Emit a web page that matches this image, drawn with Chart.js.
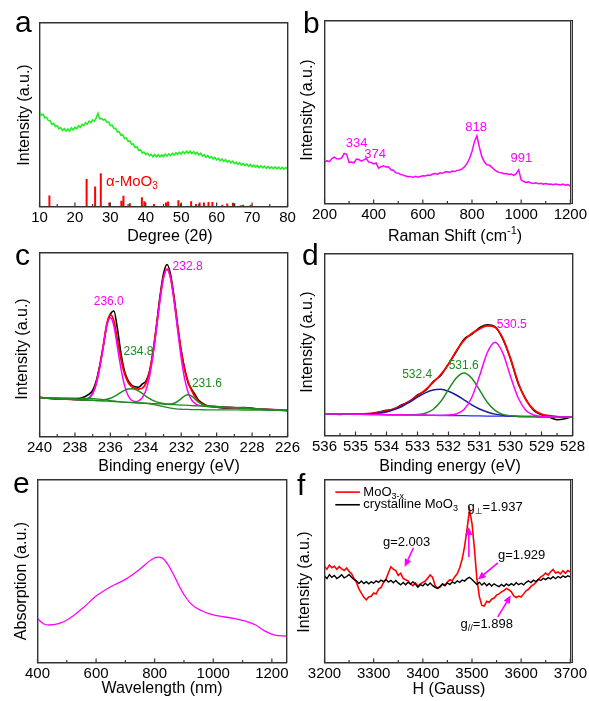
<!DOCTYPE html>
<html>
<head>
<meta charset="utf-8">
<script src="https://cdn.jsdelivr.net/npm/chart.js@4.4.0/dist/chart.umd.min.js"></script>
<style>
html, body { margin: 0; padding: 0; background: #fff; }
#wrap { position: relative; width: 589px; height: 701px; }
#wrap canvas { position: absolute; left: 0; top: 0; }
.edge { position: absolute; background: #333; z-index: 5; pointer-events: none; }
</style>
</head>
<body>
<div id="wrap">
  <canvas id="pa" width="589" height="701"></canvas>
  <canvas id="pb" width="589" height="701"></canvas>
  <canvas id="pc" width="589" height="701"></canvas>
  <canvas id="pd" width="589" height="701"></canvas>
  <canvas id="pe" width="589" height="701"></canvas>
  <canvas id="pf" width="589" height="701"></canvas>
</div>
<script>
// ---- data (y in arbitrary units, 0 = bottom of frame, 100 = top) ----
function range(a, b, step) {
  const out = [];
  for (let i = 0; a + i * step <= b + 1e-9; i++) out.push(Math.round((a + i * step) * 100) / 100);
  return out;
}

// a: XRD
const xrdAngle = range(10, 80, 0.5);
const xrdIntensity = [
  51.3,49.6,50.1,48.2,48.4,46.7,46.6,44.6,45.2,43.5,
  43.9,42.2,42.9,41.3,42.3,41.0,42.1,41.0,42.7,41.6,
  43.1,42.3,43.9,43.0,44.6,44.0,45.6,44.8,46.4,45.6,
  47.1,46.3,48.2,50.6,47.7,47.9,47.0,47.4,45.8,45.9,
  44.0,44.2,42.4,42.5,40.5,40.6,38.7,39.0,37.0,37.3,
  35.4,35.6,33.9,33.9,32.0,32.3,30.4,30.8,29.1,29.6,
  28.2,28.9,27.6,28.3,27.1,28.2,27.0,28.1,27.0,28.1,
  27.2,28.4,27.4,28.6,27.7,28.9,28.0,29.2,28.3,29.5,
  28.5,29.8,28.8,30.0,28.9,30.0,28.8,29.8,28.5,29.4,
  28.0,28.9,27.4,28.2,26.8,27.7,26.3,27.1,25.8,26.7,
  25.4,26.2,24.9,25.8,24.5,25.4,24.1,24.9,23.7,24.6,
  23.3,24.1,22.9,23.8,22.5,23.4,22.2,23.1,21.9,22.8,
  21.6,22.5,21.4,22.3,21.2,22.1,21.0,21.9,20.8,21.8,
  20.7,21.6,20.6,21.5,20.5,21.4,20.4,21.3,20.3,21.2,
  20.4
];
const refPeakAngle = [12.8,23.3,25.7,27.3,29.7,33.1,33.7,35.5,38.9,39.6,42.3,45.7,46.3,49.2,49.9,52.8,54.2,55.2,56.4,57.7,58.8,61.6,63.0,64.6,65.0,66.9,67.5,69.6];
const refPeakHeight = [6.0,14.9,10.9,18.1,2.2,3.1,5.8,1.8,5.0,2.9,1.3,2.2,2.7,3.4,1.6,2.9,1.3,2.2,2.2,2.5,2.5,0.9,1.6,2.0,1.8,0.7,0.9,0.9];

// b: Raman
const ramanShift = range(200, 1200, 10);
const ramanIntensity = [
  22.6,23.4,22.9,24.6,25.3,24.4,24.3,24.9,27.4,26.9,
  22.3,22.6,22.2,24.3,24.0,23.2,23.8,24.6,22.6,22.4,
  21.6,22.1,19.3,20.1,20.6,19.9,20.1,18.4,18.2,16.8,
  16.6,15.8,15.5,15.0,14.6,14.8,14.3,14.9,14.4,14.8,
  15.2,15.0,15.6,15.3,16.1,16.4,16.0,16.8,16.5,17.2,
  17.4,17.0,17.8,17.5,18.1,18.3,18.9,20.1,21.9,24.6,
  28.4,33.8,37.0,30.8,25.6,22.8,21.2,21.0,19.9,18.6,
  17.6,17.0,16.8,16.3,16.4,15.9,16.1,15.4,16.3,18.4,
  12.9,12.0,11.5,11.8,11.2,11.0,11.3,10.8,11.0,10.6,
  10.9,10.5,10.6,10.3,10.7,10.4,10.1,10.6,10.0,10.3,
  9.6
];

// c: Mo 3d XPS
const moEnergy = [240,239,238,237.6,237.2,237.0,236.8,236.6,236.4,236.2,236.0,235.8,235.6,235.4,235.2,235.0,234.8,234.6,234.4,234.2,234.0,233.8,233.6,233.4,233.2,233.0,232.8,232.6,232.4,232.2,232.0,231.8,231.6,231.4,231.2,231.0,230.6,230.2,229.5,228.5,227.5,226];
const moRaw = [21.3,20.4,20.3,21.0,23.0,25.0,30.0,38.5,49.0,60.5,66.5,68.2,58.5,45.0,35.5,30.5,28.0,27.0,26.8,28.5,30.0,35.0,45.5,60.0,76.0,88.5,93.5,88.0,75.5,60.0,46.5,36.5,29.0,25.5,22.5,19.5,17.0,16.2,15.5,15.7,14.8,14.0];
const moFit = [21.1,20.6,20.1,19.9,20.95,23.4,28.7,37.8,49.5,61.2,66.2,62.7,52.4,42.1,34.2,29.5,27.2,26.2,25.8,26.3,28.8,34.7,45.1,59.3,74.6,86.6,91.0,86.4,74.4,59.6,46.1,36.1,29.5,24.8,21.3,18.8,16.7,16.3,15.9,15.4,14.9,14.2];
const moSix = [21.1,20.6,20.1,19.9,20.9,23.3,28.6,37.5,48.9,60.2,64.5,60.0,48.5,36.9,27.8,22.3,19.7,19.0,19.4,21.1,24.9,32.0,43.4,58.3,74.0,86.3,90.9,86.1,73.6,57.7,42.6,31.0,23.7,19.7,17.8,16.9,16.4,16.3,15.9,15.4,14.9,14.2];
const moFive = [21.1,20.6,20.1,19.9,19.75,19.7,19.6,19.7,19.9,20.2,20.8,21.7,22.8,24.0,25.1,25.8,26.0,25.6,24.7,23.4,22.0,20.7,19.6,18.8,18.3,17.9,17.6,17.7,18.1,19.1,20.6,22.1,22.7,21.9,20.2,18.5,16.7,16.3,15.9,15.4,14.9,14.2];
const moLinearBg = [21.1,20.6,20.1,19.9,19.7,19.6,19.5,19.4,19.3,19.2,19.1,19.0,18.9,18.8,18.7,18.6,18.5,18.4,18.3,18.2,18.1,18.0,17.9,17.8,17.7,17.6,17.5,17.4,17.3,17.2,17.1,17.0,16.9,16.8,16.7,16.6,16.4,16.3,15.9,15.4,14.9,14.2];
const moShirleyBg = [21.1,21.0,20.9,20.8,20.7,20.6,20.5,20.3,20.0,19.8,19.5,19.3,19.0,18.8,18.6,18.5,18.4,18.3,18.2,18.1,18.0,17.8,17.5,17.1,16.7,16.2,15.8,15.4,15.1,14.9,14.8,14.7,14.7,14.6,14.6,14.6,14.5,14.5,14.5,14.4,14.3,14.2];

// d: O 1s XPS
const oEnergy = [536,535.5,535,534.5,534,533.75,533.5,533.25,533,532.75,532.5,532.25,532,531.75,531.5,531.25,531,530.75,530.5,530.25,530,529.75,529.5,529.25,529,528.75,528.5,528.25,528];
const oRaw = [12.1,11.6,11.9,12.0,13.9,14.5,17.0,18.6,22.3,24.6,29.5,33.0,39.4,46.0,52.9,55.6,59.2,60.8,59.8,53.0,42.0,28.4,19.8,13.8,11.3,10.0,8.7,9.2,10.4];
const oFit = [11.9,11.8,11.8,12.2,13.5,14.8,16.5,19.0,21.8,25.0,29.0,33.5,39.2,46.5,52.3,56.0,58.6,60.3,59.5,53.5,42.4,29.0,19.5,14.2,11.7,10.9,10.4,10.2,10.1];
const oLattice = [11.9,11.8,11.7,11.6,11.45,11.4,11.35,11.3,11.25,11.2,11.1,11.05,11.2,11.85,14.3,20.9,32.65,45.5,51.25,45.4,32.45,20.6,13.8,11.3,10.5,10.25,10.2,10.15,10.1];
const oVacancy = [11.9,11.8,11.7,11.6,11.45,11.4,11.35,11.35,11.5,12.2,14.3,18.65,25.3,31.65,34.4,31.5,25.05,18.3,13.85,11.6,10.8,10.5,10.4,10.4,10.3,10.25,10.2,10.15,10.1];
const oHydroxyl = [11.9,11.8,11.75,11.9,12.95,14.2,15.95,18.4,21.05,23.4,25.0,25.35,24.3,22.25,19.6,16.8,14.55,12.9,11.75,11.1,10.75,10.5,10.4,10.4,10.3,10.25,10.2,10.15,10.1];
const oBackground = [11.9,11.8,11.7,11.6,11.45,11.4,11.35,11.3,11.25,11.2,11.1,11.05,11.0,10.95,10.9,10.8,10.75,10.7,10.65,10.6,10.55,10.5,10.4,10.4,10.3,10.25,10.2,10.15,10.1];

// e: UV-vis-NIR
const uvWavelength = [400,420,440,480,520,560,600,650,700,750,790,810,825,845,865,895,925,960,1000,1070,1120,1145,1175,1210,1250];
const uvAbsorption = [24.0,21.2,20.5,21.6,25.3,30.5,36.3,41.4,45.4,51.1,56.3,57.6,57.2,53.6,47.8,38.4,31.9,28.3,26.0,24.1,22.1,20.5,17.3,15.0,14.4];

// f: EPR
const eprField = range(3200, 3700, 5);
const eprReduced = [
  52.5,51.0,53.2,51.8,52.6,50.9,52.4,51.2,50.3,51.6,
  49.8,48.5,46.0,43.8,40.2,37.9,35.6,34.3,35.8,36.2,
  38.0,37.4,40.1,41.0,43.6,45.5,49.0,52.3,51.0,50.2,
  47.6,48.8,46.0,45.2,44.6,42.8,42.0,43.5,41.8,42.9,
  43.8,44.5,46.1,47.8,46.5,42.0,40.6,41.2,43.0,42.4,
  44.0,45.2,44.7,46.9,48.5,51.8,56.5,63.5,73.0,83.5,
  76.0,62.0,45.5,36.0,31.2,30.8,33.5,32.9,34.6,35.2,
  36.8,37.5,38.6,39.3,40.5,39.8,38.6,36.4,35.5,36.3,
  35.8,37.5,39.2,40.0,41.6,42.5,43.8,45.4,46.8,47.6,
  48.9,47.8,49.6,50.8,48.9,49.5,48.4,50.1,48.7,50.3,
  49.5
];
const eprCrystalline = [
  47.3,45.8,48.0,46.5,47.6,45.9,46.8,47.9,46.2,47.0,
  48.1,46.6,45.4,44.6,43.2,44.5,43.1,44.2,43.0,44.1,
  43.4,44.6,43.8,45.0,44.2,45.3,44.0,44.9,43.6,44.8,
  43.5,42.4,43.7,42.5,43.9,42.8,44.1,42.7,41.2,42.6,
  41.9,43.3,42.1,43.4,42.0,41.1,40.5,41.6,42.8,41.9,
  43.5,42.6,44.0,43.2,44.6,43.8,45.1,44.5,45.8,46.5,
  45.3,44.0,42.6,43.9,42.3,43.5,42.0,43.2,41.8,43.0,
  42.1,41.5,42.7,41.6,42.9,42.0,43.1,42.2,43.6,42.5,
  43.3,42.4,43.8,44.6,43.7,45.0,44.2,45.5,44.8,46.0,
  45.3,46.4,45.7,46.9,45.8,47.0,46.2,47.3,46.5,47.4,
  46.8
];

// tick labels
const ticksA = [10,20,30,40,50,60,70,80];
const ticksB = [200,400,600,800,1000,1200];
const ticksC = [240,238,236,234,232,230,228,226];
const ticksD = [536,535,534,533,532,531,530,529,528];
const ticksE = [400,600,800,1000,1200];
const ticksF = [3200,3300,3400,3500,3600,3700];

// ---- drawing helpers ----
const FONT = "'Liberation Sans', Arial, 'DejaVu Sans', sans-serif";
const W = 589, H = 701, AXIS_H = 22;
const FRAME = { display: true, color: '#333', width: 1.4 };
Chart.defaults.font.family = FONT;

const pts = (xs, ys) => xs.map((x, i) => ({ x, y: ys[i] }));
// vertical sticks from the baseline, broken by null gaps
const sticks = (xs, hs) => xs.flatMap((x, i) => [{ x, y: 0 }, { x, y: hs[i] }, { x, y: null }]);

function drawRich(ctx, x, y, parts, size, color, align) {
  ctx.save();
  ctx.fillStyle = color;
  ctx.textBaseline = 'middle';
  ctx.textAlign = 'left';
  const fontFor = m => (m ? Math.round(size * 0.68) : size) + 'px ' + FONT;
  let w = 0;
  parts.forEach(([t, m]) => { ctx.font = fontFor(m); w += ctx.measureText(t).width; });
  let cx = align === 'left' ? x : x - w / 2;
  parts.forEach(([t, m]) => {
    ctx.font = fontFor(m);
    const dy = m === 'sub' ? size * 0.32 : m === 'sup' ? -size * 0.38 : 0;
    ctx.fillText(t, cx, y + dy);
    cx += ctx.measureText(t).width;
  });
  ctx.restore();
}

// inward ticks, annotations, titles and panel letters
const panelDecor = {
  id: 'panelDecor',
  afterDraw(chart, args, o) {
    const { ctx, scales: { x, y } } = chart;
    const bottom = y.getPixelForValue(0);
    ctx.save();
    ctx.fillStyle = '#333';
    o.major.forEach((v, i) => {
      ctx.fillRect(x.getPixelForValue(v) - 0.6, bottom - 4, 1.2, 4);
      if (i < o.major.length - 1) ctx.fillRect(x.getPixelForValue((v + o.major[i + 1]) / 2) - 0.6, bottom - 2.5, 1.2, 2.5);
    });

    (o.arrows || []).forEach(ar => {
      const x1 = x.getPixelForValue(ar.from[0]), y1 = y.getPixelForValue(ar.from[1]);
      const x2 = x.getPixelForValue(ar.to[0]), y2 = y.getPixelForValue(ar.to[1]);
      const ang = Math.atan2(y2 - y1, x2 - x1), hl = 8, hw = 3.5;
      const bx = x2 - hl * Math.cos(ang), by = y2 - hl * Math.sin(ang);
      ctx.strokeStyle = '#ff00ff'; ctx.fillStyle = '#ff00ff'; ctx.lineWidth = 1.6;
      ctx.beginPath(); ctx.moveTo(x1, y1); ctx.lineTo(bx, by); ctx.stroke();
      ctx.beginPath();
      ctx.moveTo(x2, y2);
      ctx.lineTo(bx + hw * Math.sin(ang), by - hw * Math.cos(ang));
      ctx.lineTo(bx - hw * Math.sin(ang), by + hw * Math.cos(ang));
      ctx.closePath(); ctx.fill();
    });

    (o.legend || []).forEach(r => {
      const py = y.getPixelForValue(r.y);
      ctx.strokeStyle = r.color; ctx.lineWidth = 1.6;
      ctx.beginPath(); ctx.moveTo(x.getPixelForValue(r.x1), py); ctx.lineTo(x.getPixelForValue(r.x2), py); ctx.stroke();
      drawRich(ctx, x.getPixelForValue(r.tx), py, r.parts, 13, '#000', 'left');
    });

    (o.notes || []).forEach(n => {
      drawRich(ctx, x.getPixelForValue(n.x), y.getPixelForValue(n.y), n.parts, n.size, n.color, n.align);
    });

    drawRich(ctx, o.xTitle.x, o.xTitle.y, o.xTitle.parts, 16, '#000', 'center');
    ctx.save();
    ctx.translate(o.yTitle.x, o.yTitle.y);
    ctx.rotate(-Math.PI / 2);
    drawRich(ctx, 0, 0, [[o.yTitle.text, '']], 16, '#000', 'center');
    ctx.restore();

    ctx.fillStyle = '#000';
    ctx.font = '30px ' + FONT;
    ctx.textBaseline = 'alphabetic';
    ctx.textAlign = 'left';
    ctx.fillText(o.letter.t, o.letter.x, o.letter.y);
    ctx.restore();
  }
};

const panels = [];

function panel(id, box, xr, datasets, decor) {
  decor.major = xr.major;
  const zero = s => { s.width = 0; s.height = 0; };
  const chart = new Chart(document.getElementById(id), {
    type: 'line',
    data: { datasets },
    options: {
      responsive: false,
      animation: false,
      layout: { padding: { left: box.L, top: box.T, right: W - box.R, bottom: H - box.B - AXIS_H } },
      elements: { point: { radius: 0 }, line: { borderWidth: 1.5, tension: 0 } },
      plugins: { legend: { display: false }, tooltip: { enabled: false }, panelDecor: decor },
      scales: {
        x: {
          type: 'linear', position: 'bottom', min: xr.min, max: xr.max, reverse: !!xr.reverse, offset: false,
          grid: { display: false, drawTicks: false, offset: false }, border: FRAME,
          ticks: { color: '#000', font: { size: 15 }, padding: 2, maxRotation: 0, autoSkip: false,
                   callback: v => String(v) },
          afterBuildTicks: s => { s.ticks = xr.major.map(v => ({ value: v })); },
          afterFit: s => { s.height = AXIS_H; }
        },
        xTop: {
          type: 'linear', axis: 'x', position: 'top', min: xr.min, max: xr.max, reverse: !!xr.reverse, offset: false,
          grid: { display: false, drawTicks: false }, border: FRAME, ticks: { display: false },
          afterFit: zero
        },
        y: {
          type: 'linear', position: 'left', min: 0, max: 100,
          grid: { display: false, drawTicks: false }, border: FRAME, ticks: { display: false },
          afterFit: zero
        },
        yRight: {
          type: 'linear', axis: 'y', position: 'right', min: 0, max: 100,
          grid: { display: false, drawTicks: false }, border: FRAME, ticks: { display: false },
          afterFit: zero
        }
      }
    },
    plugins: [panelDecor]
  });
  panels.push({ box });
  return chart;
}

const line = (data, color, extra) => Object.assign({ type: 'line', data, borderColor: color, borderWidth: 1.5, pointRadius: 0, fill: false, xAxisID: 'x', yAxisID: 'y' }, extra || {});
const smooth = { cubicInterpolationMode: 'monotone' };

// a
panel('pa', { L: 39.5, T: 22.5, R: 287.5, B: 206.5 }, { min: 10, max: 80, major: ticksA }, [
  line(pts(xrdAngle, xrdIntensity), '#22ee22', { borderWidth: 1.6 }),
  line(sticks(refPeakAngle, refPeakHeight), '#ff0000', { borderWidth: 2, spanGaps: false, borderCapStyle: 'butt' })
], {
  letter: { t: 'a', x: 15, y: 32 },
  xTitle: { x: 170, y: 237, parts: [['Degree (2θ)', '']] },
  yTitle: { x: 25, y: 115, text: 'Intensity (a.u.)' },
  notes: [{ x: 28.8, y: 13.6, parts: [['α-MoO', ''], ['3', 'sub']], size: 15, color: '#ff0000', align: 'left' }]
});

// b
panel('pb', { L: 324.5, T: 20.5, R: 572.5, B: 203.5 }, { min: 200, max: 1200, major: ticksB }, [
  line(pts(ramanShift, ramanIntensity), '#ff00ff')
], {
  letter: { t: 'b', x: 303, y: 33 },
  xTitle: { x: 455, y: 237, parts: [['Raman Shift (cm', ''], ['-1', 'sup'], [')', '']] },
  yTitle: { x: 308, y: 110, text: 'Intensity (a.u.)' },
  notes: [
    { x: 331, y: 33.1, parts: [['334', '']], size: 13, color: '#ff00ff' },
    { x: 406, y: 26.9, parts: [['374', '']], size: 13, color: '#ff00ff' },
    { x: 817, y: 41.6, parts: [['818', '']], size: 13, color: '#ff00ff' },
    { x: 1001, y: 24.4, parts: [['991', '']], size: 13, color: '#ff00ff' }
  ]
});

// c
panel('pc', { L: 39.5, T: 252.5, R: 287.5, B: 436.5 }, { min: 226, max: 240, reverse: true, major: ticksC }, [
  line(pts(moEnergy, moFive), '#1f8a1f', smooth),
  line(pts(moEnergy, moLinearBg), '#1f8a1f', { borderWidth: 1.3 }),
  line(pts(moEnergy, moShirleyBg), '#1f8a1f', Object.assign({ borderWidth: 1.3 }, smooth)),
  line(pts(moEnergy, moSix), '#ff00ff', smooth),
  line(pts(moEnergy, moFit), '#ff0000', Object.assign({ borderWidth: 1.8 }, smooth)),
  line(pts(moEnergy, moRaw), '#000000', Object.assign({ borderWidth: 1.6 }, smooth))
], {
  letter: { t: 'c', x: 15, y: 265 },
  xTitle: { x: 169, y: 467, parts: [['Binding energy (eV)', '']] },
  yTitle: { x: 23, y: 349, text: 'Intensity (a.u.)' },
  notes: [
    { x: 236.09, y: 73.3, parts: [['236.0', '']], size: 12, color: '#ff00ff' },
    { x: 231.64, y: 92.4, parts: [['232.8', '']], size: 12, color: '#ff00ff' },
    { x: 234.41, y: 46.0, parts: [['234.8', '']], size: 12, color: '#1f8a1f' },
    { x: 230.55, y: 28.7, parts: [['231.6', '']], size: 12, color: '#1f8a1f' }
  ]
});

// d
panel('pd', { L: 324.5, T: 253.5, R: 572.5, B: 435.5 }, { min: 528, max: 536, reverse: true, major: ticksD }, [
  line(pts(oEnergy, oLattice), '#ff00ff', smooth),
  line(pts(oEnergy, oVacancy), '#1f8a1f', smooth),
  line(pts(oEnergy, oHydroxyl), '#1c1c9a', smooth),
  line(pts(oEnergy, oBackground), '#2a2aff', { borderWidth: 1.3 }),
  line(pts(oEnergy, oFit), '#ff0000', Object.assign({ borderWidth: 1.8 }, smooth)),
  line(pts(oEnergy, oRaw), '#000000', Object.assign({ borderWidth: 1.5 }, smooth))
], {
  letter: { t: 'd', x: 302, y: 265 },
  xTitle: { x: 450, y: 467, parts: [['Binding energy (eV)', '']] },
  yTitle: { x: 308, y: 342, text: 'Intensity (a.u.)' },
  notes: [
    { x: 529.96, y: 60.7, parts: [['530.5', '']], size: 12, color: '#ff00ff' },
    { x: 531.51, y: 38.4, parts: [['531.6', '']], size: 12, color: '#1f8a1f' },
    { x: 533.01, y: 33.3, parts: [['532.4', '']], size: 12, color: '#1f8a1f' }
  ]
});

// e
panel('pe', { L: 37.5, T: 479.5, R: 286.5, B: 662.5 }, { min: 400, max: 1250, major: ticksE }, [
  line(pts(uvWavelength, uvAbsorption), '#ff00ff', Object.assign({ borderWidth: 1.3 }, smooth))
], {
  letter: { t: 'e', x: 13, y: 493 },
  xTitle: { x: 162, y: 689, parts: [['Wavelength (nm)', '']] },
  yTitle: { x: 22, y: 581, text: 'Absorption (a.u.)' }
});

// f
panel('pf', { L: 324.5, T: 479.5, R: 572.5, B: 662.5 }, { min: 3200, max: 3700, major: ticksF }, [
  line(pts(eprField, eprCrystalline), '#000000', { borderWidth: 1.4 }),
  line(pts(eprField, eprReduced), '#ff0000', { borderWidth: 1.6 })
], {
  letter: { t: 'f', x: 297, y: 495 },
  xTitle: { x: 449, y: 690, parts: [['H (Gauss)', '']] },
  yTitle: { x: 305, y: 582, text: 'Intensity (a.u.)' },
  legend: [
    { x1: 3222, x2: 3272, tx: 3279, y: 93.1, color: '#ff0000', parts: [['MoO', ''], ['3-x', 'sub']] },
    { x1: 3222, x2: 3272, tx: 3279, y: 86.2, color: '#000000', parts: [['crystalline MoO', ''], ['3', 'sub']] }
  ],
  notes: [
    { x: 3547, y: 84.9, parts: [['g', ''], ['⊥', 'sub'], ['=1.937', '']], size: 13, color: '#000' },
    { x: 3367, y: 65.8, parts: [['g=2.003', '']], size: 13, color: '#000' },
    { x: 3601, y: 58.5, parts: [['g=1.929', '']], size: 13, color: '#000' },
    { x: 3530, y: 20.9, parts: [['g', ''], ['//', 'sub'], ['=1.898', '']], size: 13, color: '#000' }
  ],
  arrows: [
    { from: [3493.6, 57.6], to: [3493.6, 74.0] },
    { from: [3381, 62.7], to: [3363, 52.2] },
    { from: [3552.5, 54.4], to: [3512, 45.3] },
    { from: [3552.5, 24.9], to: [3579, 36.7] }
  ]
});

// backup frame edges as 1px page elements on the same pixel columns/rows as the axis borders
const wrap = document.getElementById('wrap');
function edge(left, top, width, height) {
  const el = document.createElement('div');
  el.className = 'edge';
  el.style.left = left + 'px';
  el.style.top = top + 'px';
  el.style.width = width + 'px';
  el.style.height = height + 'px';
  wrap.appendChild(el);
}
panels.forEach(({ box }) => {
  const l = Math.floor(box.L), t = Math.floor(box.T), r = Math.floor(box.R), b = Math.floor(box.B);
  edge(l, t, r - l + 1, 1);
  edge(l, b, r - l + 1, 1);
  edge(l, t, 1, b - t + 1);
  edge(r, t, 1, b - t + 1);
});
</script>
</body>
</html>
